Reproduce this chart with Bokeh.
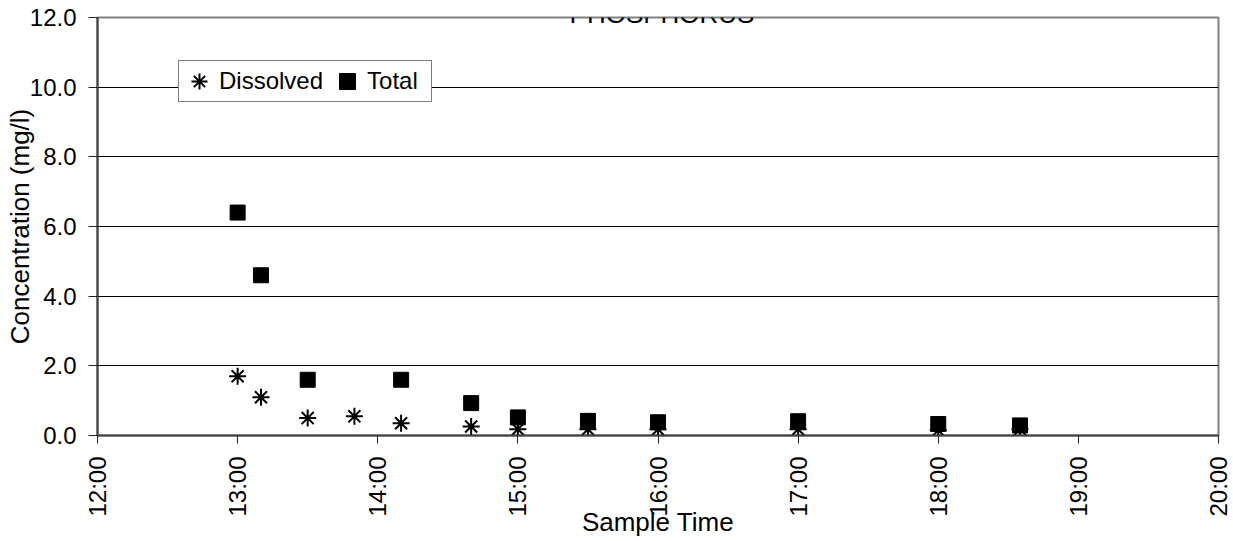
import math
from bokeh.plotting import figure
from bokeh.models import (FixedTicker, Label, Legend, LegendItem, Range1d,
                          PrintfTickFormatter)
from bokeh.embed import file_html
from bokeh.resources import INLINE

# ---- data ----
title_text = "PHOSPHORUS"
x_title = "Sample Time"
y_title = "Concentration (mg/l)"

x_tick_hours = [12, 13, 14, 15, 16, 17, 18, 19, 20]
x_tick_labels = ["12:00", "13:00", "14:00", "15:00", "16:00", "17:00",
                 "18:00", "19:00", "20:00"]
y_ticks = [0, 2, 4, 6, 8, 10, 12]

total_times = ["13:00", "13:10", "13:30", "14:10", "14:40", "15:00",
               "15:30", "16:00", "17:00", "18:00", "18:35"]
total_values = [6.4, 4.6, 1.6, 1.6, 0.93, 0.52, 0.42, 0.38, 0.41, 0.33, 0.29]

dissolved_times = ["13:00", "13:10", "13:30", "13:50", "14:10", "14:40",
                   "15:00", "15:30", "16:00", "17:00", "18:00", "18:35"]
dissolved_values = [1.7, 1.1, 0.5, 0.55, 0.35, 0.26, 0.18, 0.18, 0.18,
                    0.18, 0.15, 0.18]


def hours(t):
    h, m = t.split(":")
    return int(h) + int(m) / 60.0


FONT = "Liberation Sans"
FS = "24px"
FS_TITLE = "26px"

p = figure(width=1233, height=541, output_backend="svg", toolbar_location=None,
           x_range=Range1d(12, 20), y_range=Range1d(0, 12),
           min_border_left=97, min_border_right=15, min_border_top=17,
           min_border_bottom=106, background_fill_color="white",
           border_fill_color="white")

p.outline_line_color = "#808080"
p.outline_line_width = 2

# axes
p.xaxis.ticker = FixedTicker(ticks=x_tick_hours)
p.xaxis.major_label_overrides = {h: l for h, l in zip(x_tick_hours, x_tick_labels)}
p.xaxis.major_label_orientation = math.pi / 2
p.xaxis.minor_tick_line_color = None
p.xaxis.major_tick_in = 0
p.xaxis.major_tick_out = 8
p.xaxis.major_label_standoff = 13
p.xaxis.axis_line_color = "#404040"
p.xaxis.axis_line_width = 2
p.xaxis.major_tick_line_color = "#202020"
p.xaxis.axis_label = x_title
p.xaxis.axis_label_standoff = -13

p.yaxis.ticker = FixedTicker(ticks=y_ticks)
p.yaxis.formatter = PrintfTickFormatter(format="%.1f")
p.yaxis.minor_tick_line_color = None
p.yaxis.major_tick_in = 0
p.yaxis.major_tick_out = 9
p.yaxis.major_label_standoff = 12
p.yaxis.axis_line_color = "#404040"
p.yaxis.axis_line_width = 2
p.yaxis.major_tick_line_color = "#202020"
p.yaxis.axis_label = y_title
p.yaxis.axis_label_standoff = -8

for ax in (p.xaxis, p.yaxis):
    ax.major_label_text_font = FONT
    ax.major_label_text_font_size = FS
    ax.major_label_text_color = "black"
    ax.axis_label_text_font = FONT
    ax.axis_label_text_font_size = FS_TITLE
    ax.axis_label_text_font_style = "normal"
    ax.axis_label_text_color = "black"

p.xgrid.visible = False
p.ygrid.ticker = FixedTicker(ticks=[2, 4, 6, 8, 10])
p.ygrid.grid_line_color = "black"
p.ygrid.grid_line_width = 1

# glyphs
r_d = p.scatter([hours(t) for t in dissolved_times], dissolved_values,
                marker="asterisk", size=17, line_color="black", line_width=2)
r_t = p.scatter([hours(t) for t in total_times], total_values,
                marker="square", size=15, fill_color="black", line_color="black")

legend = Legend(items=[LegendItem(label="Dissolved", renderers=[r_d]),
                       LegendItem(label="Total", renderers=[r_t])],
                orientation="horizontal", location=(81, 333),
                label_text_font=FONT, label_text_font_size=FS,
                label_text_color="black",
                border_line_color="black", border_line_width=1,
                background_fill_color="white", background_fill_alpha=1,
                padding=0, spacing=4, glyph_width=40, glyph_height=40,
                label_standoff=0, label_width=64, margin=0)
p.add_layout(legend)

# title
p.add_layout(Label(x=16, y=12, x_offset=4, y_offset=4, text=title_text,
                   text_font=FONT, text_font_size=FS_TITLE, text_align="center",
                   text_baseline="alphabetic", text_color="black"))

open("out.html", "w").write(file_html(p, INLINE))
